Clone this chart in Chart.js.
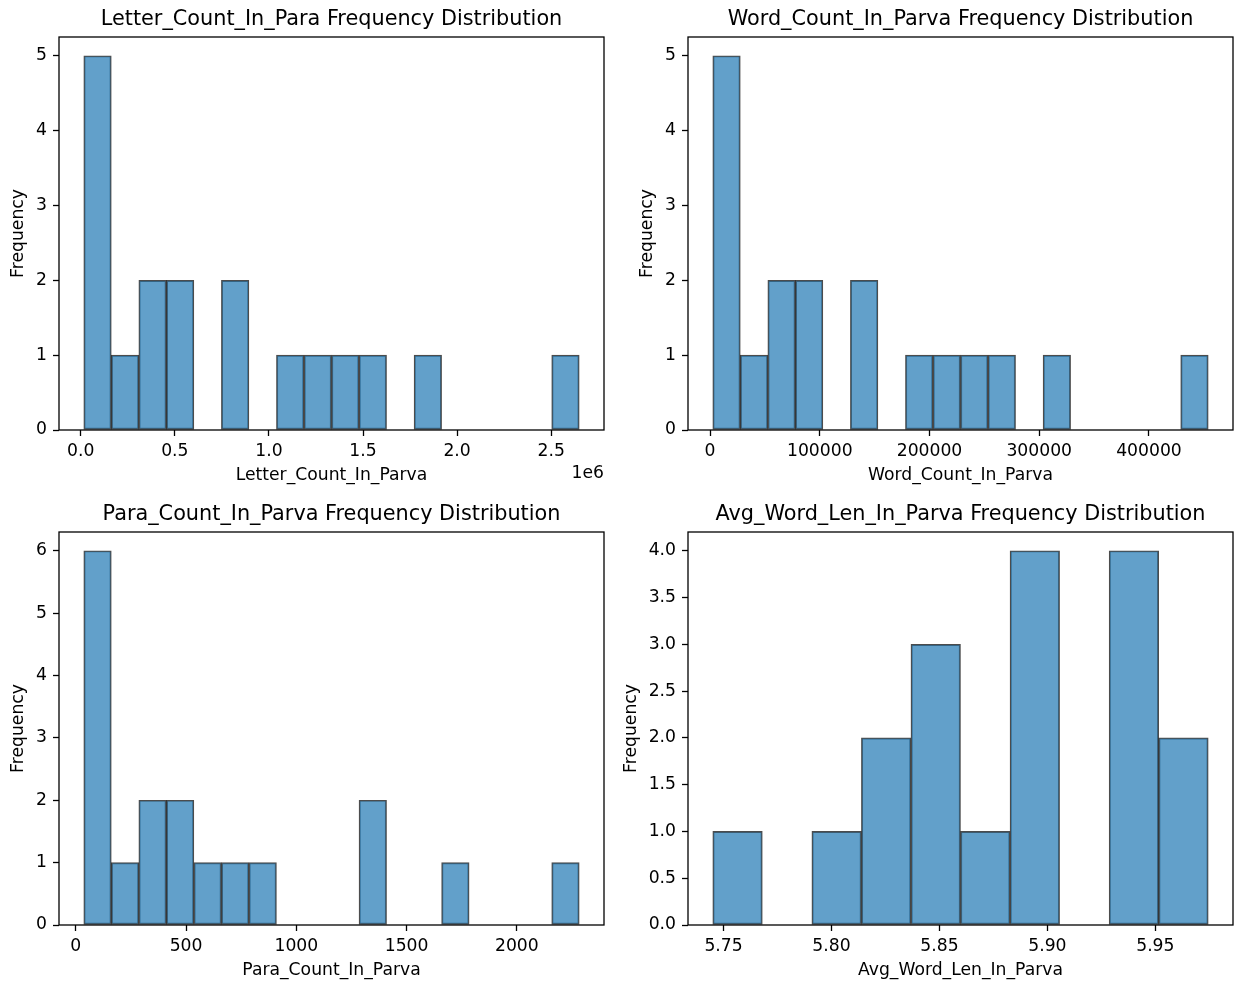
<!DOCTYPE html>
<html>
<head>
<meta charset="utf-8">
<title>Parva frequency distributions</title>
<script src="https://cdn.jsdelivr.net/npm/chart.js@4.4.1/dist/chart.umd.min.js"></script>
<style>
  html, body { margin: 0; padding: 0; background: #fff; }
  body { width: 1235px; height: 984px; position: relative; overflow: hidden; }
  canvas { position: absolute; }
</style>
</head>
<body>
<canvas id="letterChart" width="617" height="490" style="left:0;top:0"></canvas>
<canvas id="wordChart" width="615" height="490" style="left:620px;top:0"></canvas>
<canvas id="paraChart" width="617" height="489" style="left:0;top:495px"></canvas>
<canvas id="avgLenChart" width="615" height="489" style="left:620px;top:495px"></canvas>
<script>
// Histogram bin counts (18 parvas per panel)
const letterCounts = [5, 1, 2, 2, 0, 2, 0, 1, 1, 1, 1, 0, 1, 0, 0, 0, 0, 1];
const letterRange = [16000, 2649000];
const letterTicks = [0, 500000, 1000000, 1500000, 2000000, 2500000];

const wordCounts = [5, 1, 2, 2, 0, 2, 0, 1, 1, 1, 1, 0, 1, 0, 0, 0, 0, 1];
const wordRange = [2500, 454000];
const wordTicks = [0, 100000, 200000, 300000, 400000];

const paraCounts = [6, 1, 2, 2, 1, 1, 1, 0, 0, 0, 2, 0, 0, 1, 0, 0, 0, 1];
const paraRange = [36, 2283];
const paraTicks = [0, 500, 1000, 1500, 2000];

const avgLenCounts = [1, 0, 1, 2, 3, 1, 4, 0, 4, 2];
const avgLenRange = [5.745, 5.9745];
const avgLenTicks = [5.75, 5.80, 5.85, 5.90, 5.95];

const freqTicks5 = [0, 1, 2, 3, 4, 5];
const freqTicks6 = [0, 1, 2, 3, 4, 5, 6];
const freqTicksHalf = [0, 0.5, 1, 1.5, 2, 2.5, 3, 3.5, 4];

const LABEL_SIZE = 17.2;
const TITLE_SIZE = 20.8;

Chart.defaults.font.family = '"DejaVu Sans", sans-serif';
Chart.defaults.color = '#000';

// matplotlib-style box around the axes
const frame = {
  id: 'frame',
  afterDatasetsDraw(chart) {
    const { ctx, chartArea: a } = chart;
    ctx.save();
    ctx.strokeStyle = '#000';
    ctx.lineWidth = 1.3;
    ctx.strokeRect(a.left, a.top, a.right - a.left, a.bottom - a.top);
    ctx.restore();
  }
};

// the "1e6" offset label under the right end of the x axis
function offsetLabel(text) {
  return {
    id: 'offsetLabel',
    afterDraw(chart) {
      const { ctx, chartArea: a } = chart;
      ctx.save();
      ctx.font = LABEL_SIZE + 'px "DejaVu Sans", sans-serif';
      ctx.fillStyle = '#000';
      ctx.textAlign = 'right';
      ctx.textBaseline = 'middle';
      ctx.fillText(text, a.right, a.bottom + 44);
      ctx.restore();
    }
  };
}

function makeHistogram(canvasId, spec, layout, extraPlugins = []) {
  const [lo, hi] = spec.range;
  const step = (hi - lo) / spec.counts.length;
  const points = spec.counts.map((c, i) => ({ x: lo + (i + 0.5) * step, y: c }));
  const margin = (hi - lo) * 0.05;
  const yMax = Math.max(...spec.counts) * 1.05;

  const tickGrid = {
    display: true,
    drawOnChartArea: false,
    drawTicks: true,
    tickLength: 6,
    tickWidth: 1.3,
    tickColor: '#000',
    offset: false
  };

  return new Chart(document.getElementById(canvasId), {
    type: 'bar',
    data: {
      datasets: [{
        data: points,
        backgroundColor: 'rgba(31, 119, 180, 0.7)',
        borderColor: 'rgba(0, 0, 0, 0.7)',
        borderWidth: 1.3,
        borderSkipped: false,
        barPercentage: 1,
        categoryPercentage: 1
      }]
    },
    options: {
      responsive: false,
      animation: false,
      devicePixelRatio: 1,
      layout: { padding: { left: layout.padLeft, right: layout.padRight, top: 0, bottom: 0 } },
      plugins: {
        legend: { display: false },
        tooltip: { enabled: false },
        title: {
          display: true,
          text: spec.title,
          fullSize: false,
          color: '#000',
          font: { size: TITLE_SIZE, weight: 'normal' },
          padding: { top: 7, bottom: 37 - 7 - TITLE_SIZE * 1.2 }
        }
      },
      scales: {
        x: {
          type: 'linear',
          min: lo - margin,
          max: hi + margin,
          offset: false,
          afterFit: (s) => { s.height = layout.xHeight; },
          afterBuildTicks: (s) => { s.ticks = spec.xTicks.map((v) => ({ value: v })); },
          grid: tickGrid,
          border: { display: false },
          ticks: {
            callback: spec.xFormat,
            color: '#000',
            font: { size: LABEL_SIZE },
            padding: 5,
            maxRotation: 0,
            autoSkip: false
          },
          title: {
            display: true,
            text: spec.xLabel,
            color: '#000',
            font: { size: LABEL_SIZE },
            padding: { top: 0, bottom: layout.xTitlePad }
          }
        },
        y: {
          type: 'linear',
          min: 0,
          max: yMax,
          afterFit: (s) => { s.width = layout.yWidth; },
          afterBuildTicks: (s) => { s.ticks = spec.yTicks.map((v) => ({ value: v })); },
          grid: tickGrid,
          border: { display: false },
          ticks: {
            callback: spec.yFormat,
            color: '#000',
            font: { size: LABEL_SIZE },
            padding: 6,
            autoSkip: false
          },
          title: {
            display: true,
            text: 'Frequency',
            color: '#000',
            font: { size: LABEL_SIZE },
            padding: { top: layout.yTitlePad, bottom: 0 }
          }
        }
      }
    },
    plugins: [frame, ...extraPlugins]
  });
}

const intLabel = (v) => String(v);

makeHistogram('letterChart', {
  title: 'Letter_Count_In_Para Frequency Distribution',
  xLabel: 'Letter_Count_In_Parva',
  counts: letterCounts, range: letterRange,
  xTicks: letterTicks, xFormat: (v) => (v / 1e6).toFixed(1),
  yTicks: freqTicks5, yFormat: intLabel
}, { padLeft: 0, padRight: 13, yWidth: 59, xHeight: 60, xTitlePad: 4.5, yTitlePad: 8 }, [offsetLabel('1e6')]);

makeHistogram('wordChart', {
  title: 'Word_Count_In_Parva Frequency Distribution',
  xLabel: 'Word_Count_In_Parva',
  counts: wordCounts, range: wordRange,
  xTicks: wordTicks, xFormat: intLabel,
  yTicks: freqTicks5, yFormat: intLabel
}, { padLeft: 10, padRight: 2, yWidth: 58, xHeight: 60, xTitlePad: 4.5, yTitlePad: 7.5 });

makeHistogram('paraChart', {
  title: 'Para_Count_In_Parva Frequency Distribution',
  xLabel: 'Para_Count_In_Parva',
  counts: paraCounts, range: paraRange,
  xTicks: paraTicks, xFormat: intLabel,
  yTicks: freqTicks6, yFormat: intLabel
}, { padLeft: 0, padRight: 13, yWidth: 59, xHeight: 59, xTitlePad: 3, yTitlePad: 8 });

makeHistogram('avgLenChart', {
  title: 'Avg_Word_Len_In_Parva Frequency Distribution',
  xLabel: 'Avg_Word_Len_In_Parva',
  counts: avgLenCounts, range: avgLenRange,
  xTicks: avgLenTicks, xFormat: (v) => v.toFixed(2),
  yTicks: freqTicksHalf, yFormat: (v) => v.toFixed(1)
}, { padLeft: 0, padRight: 2, yWidth: 68, xHeight: 59, xTitlePad: 3, yTitlePad: 1.5 });
</script>
</body>
</html>
